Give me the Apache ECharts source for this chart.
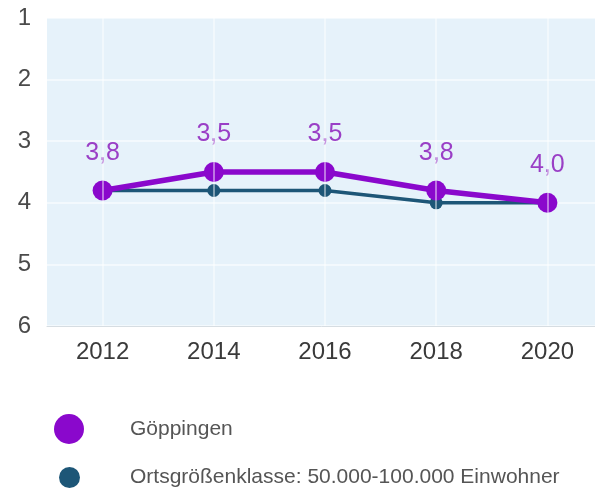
<!DOCTYPE html>
<html>
<head>
<meta charset="utf-8">
<script src="https://cdn.jsdelivr.net/npm/echarts@6/dist/echarts.min.js"></script>
<style>
  html, body { margin: 0; padding: 0; background: #ffffff; }
  #chart { width: 595px; height: 497px; }
</style>
</head>
<body>
<div id="chart"></div>
<script>
// School grades by survey year (1 = best, 6 = worst)
const years = ['2012', '2014', '2016', '2018', '2020'];
const goeppingen = [3.8, 3.5, 3.5, 3.8, 4.0];
const sizeClass = [3.8, 3.8, 3.8, 4.0, 4.0];
const gradeTicks = [1, 2, 3, 4, 5, 6];

const nameCity = 'Göppingen';
const nameClass = 'Ortsgrößenklasse: 50.000-100.000 Einwohner';

const purple = '#8a08cc';
const teal = '#1d5677';
const font = '"Liberation Sans", Arial, sans-serif';

const chart = echarts.init(document.getElementById('chart'), null, { renderer: 'canvas' });

chart.setOption({
  animation: false,
  backgroundColor: '#ffffff',
  textStyle: { fontFamily: font },
  grid: {
    left: 47,
    width: 556,
    top: 18,
    bottom: 171,
    outerBoundsMode: 'none',
    containLabel: false,
    show: true,
    backgroundColor: '#e6f2fa',
    borderWidth: 0
  },
  legend: [
    {
      data: [{ name: nameCity, icon: 'circle' }],
      left: 54,
      top: 414,
      padding: 0,
      itemWidth: 30,
      itemHeight: 30,
      textStyle: { fontSize: 21, color: '#555', fontFamily: font, padding: [0, 0, 0, 41] },
      selectedMode: false
    },
    {
      data: [{ name: nameClass, icon: 'circle' }],
      left: 59,
      top: 467,
      padding: 0,
      itemWidth: 21,
      itemHeight: 21,
      textStyle: { fontSize: 21, color: '#555', fontFamily: font, padding: [3, 0, 0, 45] },
      selectedMode: false
    }
  ],
  xAxis: {
    type: 'category',
    data: years,
    boundaryGap: true,
    axisLine: { show: true, lineStyle: { color: '#d6dde2', width: 1 } },
    axisTick: { show: false },
    axisLabel: { fontSize: 24, color: '#3a3a3a', margin: 14, fontFamily: font },
    splitLine: { show: false }
  },
  yAxis: {
    type: 'value',
    inverse: true,
    min: gradeTicks[0],
    max: gradeTicks[gradeTicks.length - 1],
    interval: 1,
    axisLine: { show: false },
    axisTick: { show: false },
    axisLabel: { fontSize: 24, color: '#4a4a4a', margin: 16, fontFamily: font },
    splitLine: { show: true, lineStyle: { color: 'rgba(255,255,255,0.7)', width: 1.5 } }
  },
  series: [
    {
      // faint vertical guides at each survey year
      type: 'line',
      data: [],
      z: 1,
      silent: true,
      markLine: {
        silent: true,
        symbol: ['none', 'none'],
        label: { show: false },
        lineStyle: { color: 'rgba(255,255,255,0.6)', width: 1.5, type: 'solid' },
        data: years.map(y => ({ xAxis: y }))
      }
    },
    {
      name: nameClass,
      type: 'line',
      data: sizeClass,
      z: 2,
      color: teal,
      symbol: 'circle',
      symbolSize: 13,
      lineStyle: { color: teal, width: 3.5 },
      itemStyle: { color: teal }
    },
    {
      name: nameCity,
      type: 'line',
      data: goeppingen,
      z: 3,
      color: purple,
      symbol: 'circle',
      symbolSize: 20,
      lineStyle: { color: purple, width: 5.5 },
      itemStyle: { color: purple },
      label: {
        show: true,
        position: 'top',
        distance: 15,
        fontSize: 25,
        color: '#9a3fc6',
        fontFamily: font,
        formatter: p => p.value.toFixed(1).replace('.', ',')
      }
    }
  ]
});
</script>
</body>
</html>
